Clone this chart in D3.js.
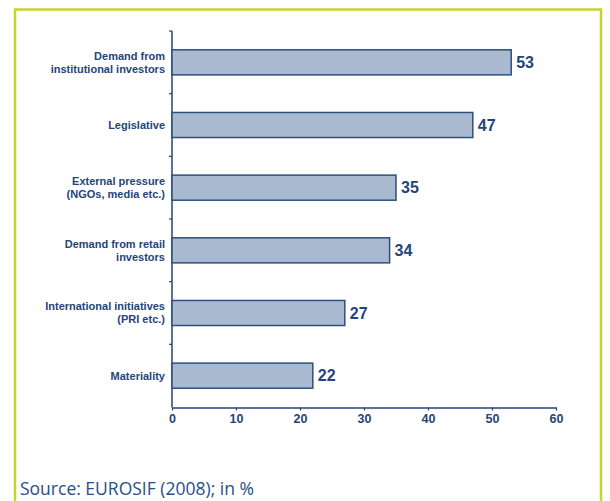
<!DOCTYPE html>
<html lang="en">
<head>
  <meta charset="UTF-8">
  <script src="https://d3js.org/d3.v7.min.js"></script>
  <title>Drivers of SRI demand</title>
  <style>
    body { margin: 0; background: #fff; }
    svg { display: block; }
  </style>
</head>
<body>
  <svg width="610" height="501"></svg>
  <script>
    // categories top to bottom, each label split into lines
    const categories = [
      ["Demand from", "institutional investors"],
      ["Legislative"],
      ["External pressure", "(NGOs, media etc.)"],
      ["Demand from retail", "investors"],
      ["International initiatives", "(PRI etc.)"],
      ["Materiality"]
    ];
    const values = [53, 47, 35, 34, 27, 22];
    const xTicks = [0, 10, 20, 30, 40, 50, 60];
    const sourceText = "Source: EUROSIF (2008); in %";

    const navy = "#24457a";
    const svg = d3.select("svg");

    // yellow-green frame, open at the bottom
    svg.append("rect")
      .attr("x", 15)
      .attr("y", 9.5)
      .attr("width", 586)
      .attr("height", 520)
      .style("fill", "none")
      .style("stroke", "#c9d42b")
      .style("stroke-width", "2.5px");

    const xScale = d3.scaleLinear().domain([0, 60]).range([172, 556]);
    const yScale = d3.scaleBand()
      .domain(d3.range(categories.length))
      .range([31, 407])
      .paddingInner(0.6)
      .paddingOuter(0.3);

    // y axis: line plus small ticks on band boundaries
    const yAxisG = svg.append("g").attr("id", "yAxisG");
    yAxisG.append("line")
      .attr("x1", xScale(0)).attr("x2", xScale(0))
      .attr("y1", 31).attr("y2", 407.5)
      .style("stroke", navy).style("stroke-width", "1.5px");
    const step = yScale.step();
    d3.range(categories.length).forEach(i => {
      const y = 31 + i * step;
      yAxisG.append("line")
        .attr("x1", xScale(0) - 3).attr("x2", xScale(0))
        .attr("y1", y).attr("y2", y)
        .style("stroke", navy).style("stroke-width", "1.2px");
    });

    // x axis
    const xAxis = d3.axisBottom(xScale)
      .tickValues(xTicks)
      .tickSize(3)
      .tickSizeOuter(0)
      .tickPadding(4);
    const xAxisG = svg.append("g")
      .attr("id", "xAxisG")
      .attr("transform", "translate(0,407.5)")
      .call(xAxis);
    xAxisG.select("path.domain").style("stroke", navy).style("stroke-width", "1.5px");
    xAxisG.selectAll(".tick line").style("stroke", navy).style("stroke-width", "1.2px");
    xAxisG.selectAll(".tick text")
      .style("fill", navy)
      .style("font-family", "'Liberation Sans', Arial, sans-serif")
      .style("font-weight", "bold")
      .style("font-size", "12.5px");

    // bars
    const bars = svg.selectAll("g.bar")
      .data(values)
      .enter()
      .append("g")
      .attr("class", "bar");

    bars.append("rect")
      .attr("x", xScale(0))
      .attr("y", (d, i) => yScale(i))
      .attr("width", d => xScale(d) - xScale(0))
      .attr("height", yScale.bandwidth())
      .style("fill", "#a9bad0")
      .style("stroke", "#2c4f7f")
      .style("stroke-width", "1.5px");

    bars.append("text")
      .attr("x", d => xScale(d) + 5)
      .attr("y", (d, i) => yScale(i) + yScale.bandwidth() / 2)
      .attr("dy", "0.36em")
      .text(d => d)
      .style("fill", navy)
      .style("font-family", "'Liberation Sans', Arial, sans-serif")
      .style("font-weight", "bold")
      .style("font-size", "16px");

    // category labels
    categories.forEach((lines, i) => {
      const cy = yScale(i) + yScale.bandwidth() / 2;
      const lineH = 13;
      const t = svg.append("text")
        .attr("text-anchor", "end")
        .style("fill", navy)
        .style("font-family", "'Liberation Sans', Arial, sans-serif")
        .style("font-weight", "bold")
        .style("font-size", "11px");
      lines.forEach((ln, j) => {
        t.append("tspan")
          .attr("x", 165)
          .attr("y", cy + (j - (lines.length - 1) / 2) * lineH)
          .attr("dy", "0.35em")
          .text(ln);
      });
    });

    // source note
    svg.append("text")
      .attr("x", 20)
      .attr("y", 495)
      .text(sourceText)
      .style("fill", "#2a4e86")
      .style("font-family", "'Open Sans', 'Noto Sans', sans-serif")
      .style("font-size", "17.5px");
  </script>
</body>
</html>
